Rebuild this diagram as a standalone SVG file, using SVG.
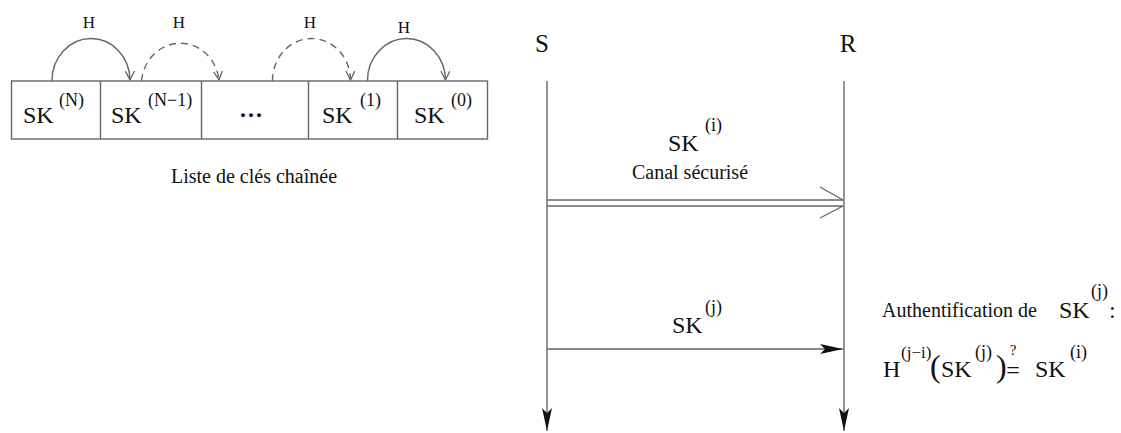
<svg xmlns="http://www.w3.org/2000/svg" width="1121" height="433" viewBox="0 0 1121 433">
<style>
text{font-family:"Liberation Serif","Times New Roman",serif;fill:#111}
.sk{font-size:24px}
.sup{font-size:18px}
.h{font-size:17px;text-anchor:middle}
.cap{font-size:20px}
.ln{stroke:#666;stroke-width:1.4;fill:none}
.dash{stroke-dasharray:7 5}
</style>
<defs>
<marker id="open" viewBox="0 0 10 10" refX="9" refY="5" markerWidth="10" markerHeight="10" markerUnits="userSpaceOnUse" orient="auto">
<path d="M0,0.5 L9,5 L0,9.5" fill="none" stroke="#666" stroke-width="1.3"/>
</marker>
<marker id="fill" viewBox="0 0 24 12" refX="23" refY="6" markerWidth="24" markerHeight="12" markerUnits="userSpaceOnUse" orient="auto">
<path d="M0,1 L23,6 L0,11 L5,6 Z" fill="#111"/>
</marker>
</defs>
<g id="chain">
<rect x="11.5" y="81" width="476" height="58" class="ln"/>
<line x1="100.5" y1="81" x2="100.5" y2="139" class="ln"/>
<line x1="201.5" y1="81" x2="201.5" y2="139" class="ln"/>
<line x1="308.5" y1="81" x2="308.5" y2="139" class="ln"/>
<line x1="397.5" y1="81" x2="397.5" y2="139" class="ln"/>
</g>
<g id="k_N"><text class="sk" x="23" y="123">SK</text><text class="sup" x="59" y="106">(N)</text></g>
<g id="k_N1"><text class="sk" x="111" y="123">SK</text><text class="sup" x="148" y="106">(N−1)</text></g>
<g id="k_dots"><text class="sk" x="251" y="123" text-anchor="middle" font-weight="bold">···</text></g>
<g id="k_1"><text class="sk" x="322" y="123">SK</text><text class="sup" x="360" y="106">(1)</text></g>
<g id="k_0"><text class="sk" x="414" y="123">SK</text><text class="sup" x="451" y="106">(0)</text></g>
<g id="hash_arcs">
<path d="M52,81 A39,42 0 0 1 130,80" class="ln" marker-end="url(#open)"/>
<path d="M141.5,81 A39,42 0 0 1 219,80" class="ln dash" marker-end="url(#open)"/>
<path d="M272.5,81 A39,42 0 0 1 350.5,80" class="ln dash" marker-end="url(#open)"/>
<path d="M367.5,81 A39,42 0 0 1 445.5,80" class="ln" marker-end="url(#open)"/>
<text class="h" x="89" y="28">H</text>
<text class="h" x="179" y="28">H</text>
<text class="h" x="310" y="28">H</text>
<text class="h" x="404" y="33">H</text>
</g>
<g id="caption"><text class="cap" x="254" y="183" text-anchor="middle">Liste de clés chaînée</text></g>
<g id="S"><text x="542" y="52" font-size="25" text-anchor="middle">S</text></g>
<g id="R"><text x="848" y="52" font-size="25" text-anchor="middle">R</text></g>
<g id="connectors">
<line x1="547" y1="81" x2="547" y2="431" class="ln" marker-end="url(#fill)"/>
<line x1="844" y1="81" x2="844" y2="431" class="ln" marker-end="url(#fill)"/>
<line x1="547" y1="200" x2="843" y2="200" class="ln"/>
<line x1="547" y1="206" x2="843" y2="206" class="ln"/>
<path d="M820,187 L843,200 M820,218 L843,206" class="ln"/>
<line x1="547" y1="349" x2="843" y2="349" class="ln" marker-end="url(#fill)"/>
</g>
<g id="msg1">
<text class="sk" x="668" y="151">SK</text><text class="sup" x="705" y="131">(i)</text>
<text class="cap" x="690" y="179" text-anchor="middle">Canal sécurisé</text>
</g>
<g id="msg2">
<text class="sk" x="672" y="333">SK</text><text class="sup" x="705" y="313">(j)</text>
</g>
<g id="auth">
<text class="cap" x="882" y="317">Authentification de</text>
<text class="sk" x="1059" y="318">SK</text><text class="sup" x="1091" y="297">(j)</text><text class="sk" x="1109" y="318">:</text>
<text class="sk" x="883" y="377">H</text><text x="901" y="358" font-size="17">(j−i)</text>
<text x="930" y="377" font-size="32">(</text>
<text class="sk" x="941" y="377">SK</text><text class="sup" x="975" y="358">(j)</text>
<text x="996" y="377" font-size="32">)</text>
<text x="1013" y="355" font-size="15" text-anchor="middle">?</text>
<text class="sk" x="1013" y="378" text-anchor="middle">=</text>
<text class="sk" x="1035" y="377">SK</text><text class="sup" x="1070" y="358">(i)</text>
</g>
</svg>
